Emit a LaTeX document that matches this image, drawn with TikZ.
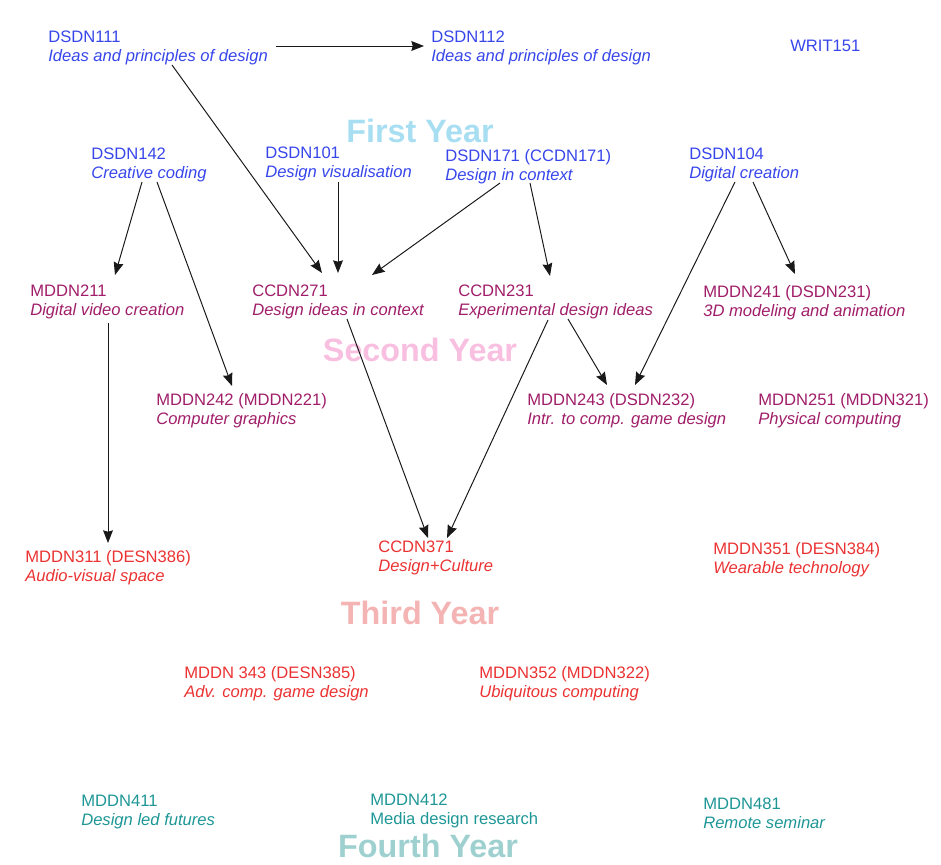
\documentclass[tikz,border=0pt]{standalone}
\usepackage{fontspec}
\setmainfont{Liberation Sans}
\usetikzlibrary{arrows.meta,calc}
\definecolor{yrone}{RGB}{55,70,235}
\definecolor{yrtwo}{RGB}{160,30,105}
\definecolor{yrthree}{RGB}{235,50,50}
\definecolor{yrfour}{RGB}{30,150,150}

\begin{document}
\begin{tikzpicture}[x=0.025cm,y=-0.025cm,>={Stealth[length=9pt,width=7pt,inset=1pt]},
                    course/.style={anchor=north west,inner sep=0pt,align=left,font=\fontsize{11.8}{13.5}\selectfont},
                    year/.style={inner sep=0pt,font=\fontsize{23}{23}\selectfont\bfseries},
                    link/.style={->,line width=0.7pt,black!90}]

      \useasboundingbox (0,0) rectangle (941,865);

      % year labels
      \node[year,text={rgb,255:red,168;green,222;blue,242}] (y1) at (420,131) {First Year};
      \node[year,text={rgb,255:red,248;green,191;blue,224}] (y2) at (420,350) {Second Year};
      \node[year,text={rgb,255:red,244;green,180;blue,180}] (y3) at (420,613) {Third Year};
      \node[year,text={rgb,255:red,159;green,208;blue,208}] (y4) at (428,846) {Fourth Year};

      % first year
      \node[course,text=yrone] (d111) at (48,31) {DSDN111\\\textit{Ideas and principles of design}};
      \node[course,text=yrone] (d112) at (431,31) {DSDN112\\\textit{Ideas and principles of design}};
      \node[course,text=yrone] (w151) at (790,40) {WRIT151};
      \node[course,text=yrone] (d142) at (91,148) {DSDN142\\\textit{Creative coding}};
      \node[course,text=yrone] (d101) at (265,147) {DSDN101\\\textit{Design visualisation}};
      \node[course,text=yrone] (d171) at (445,149) {DSDN171 (CCDN171)\\\textit{Design in context}};
      \node[course,text=yrone] (d104) at (689,148) {DSDN104\\\textit{Digital creation}};

      % second year
      \node[course,text=yrtwo] (m211) at (30,285) {MDDN211\\\textit{Digital video creation}};
      \node[course,text=yrtwo] (c271) at (252,285) {CCDN271\\\textit{Design ideas in context}};
      \node[course,text=yrtwo] (c231) at (458,285) {CCDN231\\\textit{Experimental design ideas}};
      \node[course,text=yrtwo] (m241) at (703,285) {MDDN241 (DSDN231)\\\textit{3D modeling and animation}};
      \node[course,text=yrtwo] (m242) at (156,393) {MDDN242 (MDDN221)\\\textit{Computer graphics}};
      \node[course,text=yrtwo] (m243) at (527,393) {MDDN243 (DSDN232)\\\textit{Intr. to comp. game design}};
      \node[course,text=yrtwo] (m251) at (758,393) {MDDN251 (MDDN321)\\\textit{Physical computing}};

      % third year
      \node[course,text=yrthree] (m311) at (25,550) {MDDN311 (DESN386)\\\textit{Audio-visual space}};
      \node[course,text=yrthree] (c371) at (378,541) {CCDN371\\\textit{Design+Culture}};
      \node[course,text=yrthree] (m351) at (713,542) {MDDN351 (DESN384)\\\textit{Wearable technology}};
      \node[course,text=yrthree] (m343) at (184,666) {MDDN 343 (DESN385)\\\textit{Adv. comp. game design}};
      \node[course,text=yrthree] (m352) at (479,666) {MDDN352 (MDDN322)\\\textit{Ubiquitous computing}};

      % fourth year
      \node[course,text=yrfour] (m411) at (81,795) {MDDN411\\\textit{Design led futures}};
      \node[course,text=yrfour] (m412) at (370,794) {MDDN412\\Media design research};
      \node[course,text=yrfour] (m481) at (703,798) {MDDN481\\\textit{Remote seminar}};

      % prerequisites
      \draw[link] ($(d111.north west)+(228,15)$) -- ($(d112.north west)+(-7,15)$);
      \draw[link] ($(d111.north west)+(124,34)$) -- ($(c271.north west)+(70,-12)$);
      \draw[link] ($(d101.north west)+(73,35)$) -- ($(c271.north west)+(86,-12)$);
      \draw[link] ($(d171.north west)+(55,34)$) -- ($(c271.north west)+(120,-10)$);
      \draw[link] ($(d171.north west)+(85,34)$) -- ($(c231.north west)+(92,-9)$);
      \draw[link] ($(d142.north west)+(51,34)$) -- ($(m211.north west)+(85,-10)$);
      \draw[link] ($(d142.north west)+(66,34)$) -- ($(m242.north west)+(76,-7)$);
      \draw[link] ($(d104.north west)+(64,34)$) -- ($(m241.north west)+(92,-11)$);
      \draw[link] ($(d104.north west)+(46,34)$) -- ($(m243.north west)+(108,-8)$);
      \draw[link] ($(c231.north west)+(110,34)$) -- ($(m243.north west)+(80,-8)$);
      \draw[link] ($(c231.north west)+(90,35)$) -- ($(c371.north west)+(69,-3)$);
      \draw[link] ($(c271.north west)+(95,34)$) -- ($(c371.north west)+(50,-3)$);
      \draw[link] ($(m211.north west)+(78,38)$) -- ($(m311.north west)+(83,-7)$);
\end{tikzpicture}
\end{document}
